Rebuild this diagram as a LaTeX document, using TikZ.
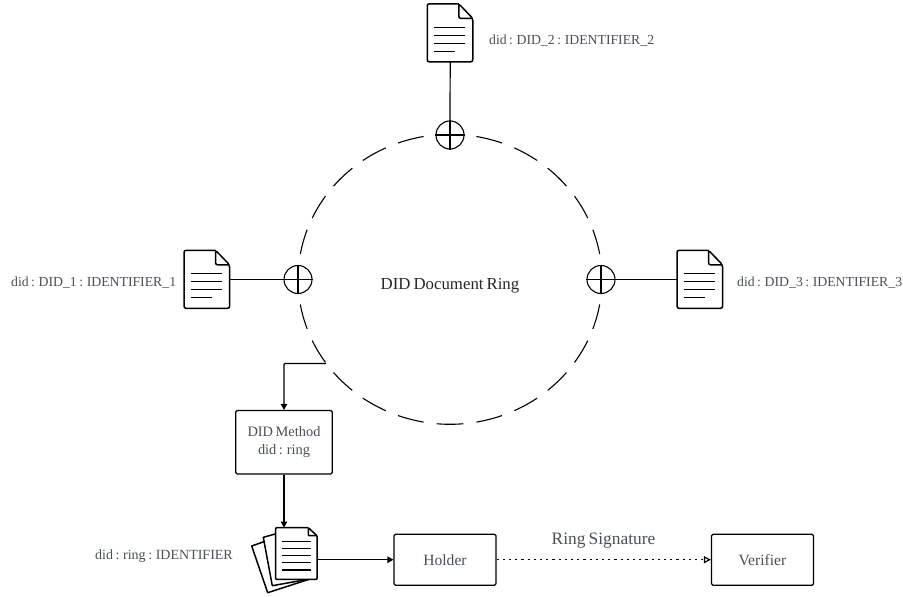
\documentclass[tikz,border=0pt]{standalone}
\usepackage{fontspec}
\setmainfont[WordSpace=0.72]{Liberation Serif}
\usetikzlibrary{arrows.meta,calc}
\definecolor{txt}{HTML}{4A4F58}
\tikzset{
  x=1pt,y=-1pt,
  conn/.style={line width=1.2pt,black,rounded corners=1pt},
  arr/.style={-{Triangle[length=6pt,width=6.5pt]}},
  ringdash/.style={line width=1.1pt,black},
  oplus/.style={circle,draw=black,line width=1.1pt,minimum size=28pt,inner sep=0pt},
  docbox/.style={minimum width=45.5pt,minimum height=58pt,inner sep=0pt},
  procbox/.style={draw=black,line width=1.2pt,rounded corners=1.5pt,inner sep=0pt,align=center,text=txt,font=\fontsize{14.4}{17.5}\selectfont},
  lab/.style={text=txt,font=\fontsize{13.75}{16}\selectfont,inner sep=0pt}
}
\newcommand{\docicon}[1]{%
  \begin{scope}[shift={(#1.north west)}]
    \draw[line width=1.5pt,rounded corners=2pt] (31.5,0) -- (0,0) -- (0,58) -- (45.5,58) -- (45.5,14.5) -- (31.5,0) -- (31.5,14.5) -- (45.5,14.5);
    \draw[line width=1.3pt] (7,23.5)--(38,23.5) (7,31.5)--(38,31.5) (7,39.5)--(38,39.5) (7,47.5)--(28,47.5);
  \end{scope}}
\begin{document}
\begin{tikzpicture}
\useasboundingbox (0,0) rectangle (903,597);
% ring
\foreach \a in {15,30,45,60,75,90,105,120,135,150,165,195,210,225,240,255,285,300,315,330,345}
  \draw[ringdash] plot[domain=\a-5:\a+5,samples=7,smooth] ({450+152*cos(\x)},{279.3+145*sin(\x)});
\node[font=\fontsize{16.8}{20}\selectfont,text=black!85,inner sep=0pt] (ringlabel) at (450,286) {DID Document Ring};
% docs
\node[docbox] (doctop) at (450.2,33) {};
\node[docbox] (docleft) at (207,279.5) {};
\node[docbox] (docright) at (700,279.5) {};
\docicon{doctop}\docicon{docleft}\docicon{docright}
% oplus
\node[oplus] (ptop) at (450,135) {};
\node[oplus] (pleft) at (298,279.5) {};
\node[oplus] (pright) at (601,279.5) {};
\foreach \n in {ptop,pleft,pright}
  \draw[line width=1.1pt] (\n.north)--(\n.south) (\n.west)--(\n.east);
\draw[conn] (doctop.south)--(ptop.north);
\draw[conn] (docleft.east)--(pleft.west);
\draw[conn] (docright.west)--(pright.east);
% labels
\node[lab,anchor=west] (l2) at (489,40.5) {did : DID\_2 : IDENTIFIER\_2};
\node[lab,anchor=west] (l1) at (11,282.5) {did : DID\_1 : IDENTIFIER\_1};
\node[lab,anchor=west] (l3) at (737,282.5) {did : DID\_3 : IDENTIFIER\_3};
\node[lab,anchor=west,font=\fontsize{14}{16}\selectfont] (l4) at (95,556) {did : ring : IDENTIFIER};
% method
\node[procbox,minimum width=96.5pt,minimum height=63.5pt] (method) at (284,442.3) {DID Method\\did : ring};
\coordinate (ringexit) at (326,363.5);
\draw[conn,arr] (ringexit) -- (ringexit -| method.north) -- (method.north);
% stack
\node[minimum width=41.5pt,minimum height=51.5pt,inner sep=0pt] (stack) at (296.3,553.5) {};
\begin{scope}[line width=1.5pt,line join=round]
  \draw[fill=white] (251.7,546) -- (267.7,592.7) -- (310,579) -- (280,536) -- cycle;
  \draw[fill=white] (263.3,537.3) -- (272.3,585.7) -- (312,578.6) -- (285,531.3) -- cycle;
  \draw[fill=white,rounded corners=0.8pt] (308.3,527.7) -- (275.7,527.7) -- (275.7,579.3) -- (317,579.3) -- (317,535.7) -- (308.3,527.7) -- (308.3,535.7) -- (317,535.7);
  \draw[line width=1.3pt] (282,541.7)--(311.3,541.7) (282,548.3)--(311.3,548.3) (282,555.3)--(311.3,555.3) (282,562.7)--(311.3,562.7) (282,570)--(311.3,570);
\end{scope}
\draw[conn,arr] (method.south) -- (method.south |- stack.north);
% holder verifier
\node[procbox,font=\fontsize{15.6}{18}\selectfont,minimum width=102pt,minimum height=51pt] (holder) at (445,559.7) {Holder};
\node[procbox,font=\fontsize{15.6}{18}\selectfont,minimum width=102pt,minimum height=51pt] (verifier) at (762.5,559.7) {Verifier};
\draw[conn,arr] (stack.east |- holder.west) -- (holder.west);
\draw[line width=1.2pt,dash pattern=on 2.2pt off 4pt,-{Triangle[open,length=7pt,width=7pt,fill=white]}] (holder.east) -- (verifier.west);
\node[font=\fontsize{17.4}{20}\selectfont,text=txt,inner sep=0pt] (sig) at (603.5,541) {Ring Signature};
\end{tikzpicture}
\end{document}
